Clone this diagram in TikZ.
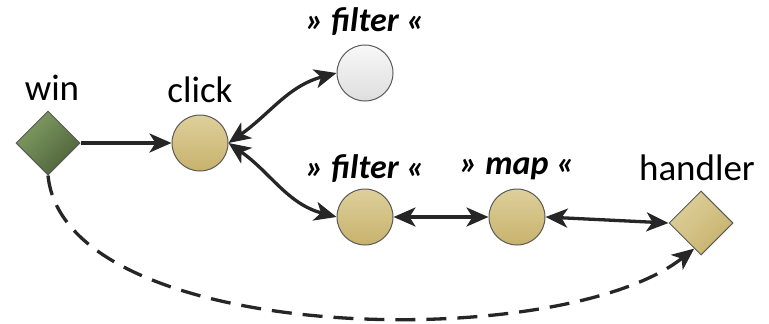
\documentclass[tikz,border=0pt]{standalone}
\usepackage{fontspec}
\setmainfont{Carlito}
\usetikzlibrary{shapes.geometric,arrows.meta}
\definecolor{goldtop}{RGB}{222,208,155}
\definecolor{goldbot}{RGB}{200,178,108}
\definecolor{greendark}{RGB}{78,98,58}
\definecolor{greenlight}{RGB}{128,158,98}
\definecolor{greytop}{RGB}{248,248,248}
\definecolor{greybot}{RGB}{222,222,222}
\definecolor{edgegrey}{RGB}{90,90,90}
\definecolor{linecol}{RGB}{38,38,38}
\tikzset{
  op/.style={circle, draw=edgegrey, line width=1pt, minimum size=56pt, inner sep=0pt,
    top color=goldtop, bottom color=goldbot},
  opgrey/.style={circle, draw=edgegrey, line width=1pt, minimum size=56pt, inner sep=0pt,
    top color=greytop, bottom color=greybot},
  src/.style={diamond, draw=edgegrey, line width=1pt, minimum size=64pt, inner sep=0pt, aspect=1},
  lbl/.style={font=\fontsize{37}{42}\selectfont, inner sep=0pt},
  oplbl/.style={font=\fontsize{34}{40}\selectfont\bfseries\itshape, inner sep=0pt},
  tip/.style={},
  conn/.style={line width=3.3pt, draw=linecol, arrows={-Stealth[length=22pt,width=19pt,inset=6pt]}},
  biconn/.style={line width=3.3pt, draw=linecol, arrows={Stealth[length=22pt,width=19pt,inset=6pt]-Stealth[length=22pt,width=19pt,inset=6pt]}},
}
\begin{document}
\begin{tikzpicture}[x=1pt,y=-1pt]
\useasboundingbox (0,0) rectangle (769,324);
\node[src, top color=greenlight, bottom color=greendark, shading angle=45] (win) at (48,143) {};
\node[lbl] (winl) at (52,88) {win};
\node[lbl] (clickl) at (200,90) {click};
\node[op] (click) at (200,143) {};
\node[opgrey] (tf) at (365,73) {};
\node[oplbl] (tfl) at (365,22) {» filter «};
\node[op] (bf) at (365,217) {};
\node[oplbl] (bfl) at (365,169) {» filter «};
\node[op] (map) at (517,217) {};
\node[oplbl] (mapl) at (517,169) {» map «};
\node[src, top color=goldtop, bottom color=goldbot, shading angle=45] (handler) at (701,223) {};
\node[lbl] (handlerl) at (697,168) {handler};

\draw[conn] (win.east) -- (click.west);
\draw[biconn] (click.east) to[out=35,in=195] (tf.west);
\draw[biconn] (click.east) to[out=-35,in=165] (bf.west);
\draw[biconn] (bf.east) -- (map.west);
\draw[biconn] (map.east) -- (handler.west);
\draw[conn, dash pattern=on 20pt off 11pt] (win.south) .. controls (65,345) and (560,355) .. (handler.255);
\end{tikzpicture}
\end{document}
